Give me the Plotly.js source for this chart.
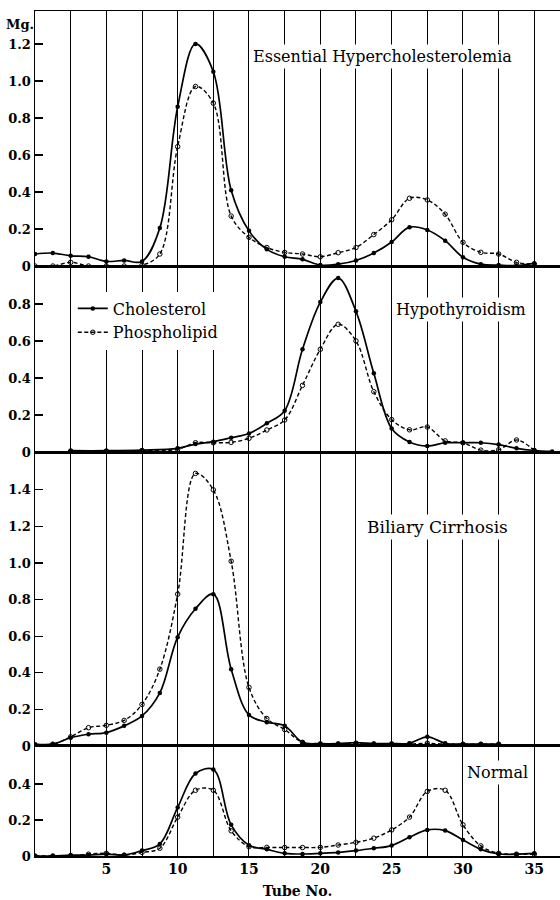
<!DOCTYPE html>
<html>
<head>
<meta charset="utf-8">
<script src="https://cdn.plot.ly/plotly-3.0.1.min.js"></script>
<style>html,body{margin:0;padding:0;background:#fff;}#chart{width:560px;height:900px;}</style>
</head>
<body>
<div id="chart"></div>
<script>
// ---- data (tube numbers and Mg values) ----
const tubes = [0,1.25,2.5,3.75,5,6.25,7.5,8.75,10,11.25,12.5,13.75,15,16.25,17.5,18.75,20,21.25,22.5,23.75,25,26.25,27.5,28.75,30,31.25,32.5,33.75,35];
const essentialChol = [0.065,0.07,0.055,0.05,0.025,0.03,0.025,0.205,0.86,1.2,1.05,0.41,0.19,0.09,0.05,0.036,0.005,0.01,0.03,0.07,0.13,0.21,0.195,0.137,0.047,0.01,0.005,0.003,0.015];
const essentialPhos = [0.0,0.0,0.02,0.0,0.0,0.0,0.005,0.065,0.645,0.97,0.88,0.27,0.155,0.10,0.074,0.065,0.05,0.072,0.10,0.17,0.25,0.366,0.357,0.28,0.128,0.074,0.065,0.02,0.01];

const hypoTubesChol = [2.5,5,7.5,10,11.25,12.5,13.75,15,16.25,17.5,18.75,20,21.25,22.5,23.75,25,26.25,27.5,28.75,30,31.25,32.5,33.75,35,36.25];
const hypoChol = [0.007,0.007,0.01,0.02,0.043,0.056,0.077,0.10,0.155,0.223,0.555,0.81,0.94,0.76,0.425,0.127,0.054,0.032,0.05,0.05,0.05,0.04,0.02,0.008,0.003];
const hypoTubesPhos = [2.5,5,7.5,10,11.25,12.5,13.75,15,16.25,17.5,18.75,20,21.25,22.5,23.75,25,26.25,27.5,28.75,30,31.25,32.5,33.75,35];
const hypoPhos = [0.005,0.005,0.008,0.015,0.05,0.05,0.052,0.074,0.119,0.173,0.36,0.555,0.69,0.60,0.326,0.175,0.12,0.135,0.06,0.05,0.01,0.012,0.065,0.008];

const biliaryTubes = [0,1.25,2.5,3.75,5,6.25,7.5,8.75,10,11.25,12.5,13.75,15,16.25,17.5,18.75,20,21.25,22.5,23.75,25,26.25,27.5,28.75,30,31.25,32.5];
const biliaryChol = [0.01,0.01,0.045,0.064,0.073,0.11,0.164,0.29,0.595,0.75,0.83,0.42,0.17,0.13,0.11,0.02,0.013,0.013,0.018,0.013,0.013,0.015,0.05,0.015,0.01,0.01,0.01];
const biliaryPhos = [0.005,0.01,0.05,0.10,0.113,0.14,0.227,0.42,0.83,1.49,1.40,1.01,0.32,0.15,0.09,0.02,0.01,0.01,0.012,0.01,0.01,0.01,0.015,0.01,0.01,0.01,0.01];

const normalChol = [0,0,0.005,0.005,0.01,0.005,0.03,0.067,0.27,0.458,0.48,0.173,0.06,0.037,0.015,0.011,0.015,0.02,0.03,0.043,0.058,0.104,0.145,0.141,0.089,0.037,0.011,0.01,0.015];
const normalPhos = [0,0,0,0.01,0.015,0.005,0.02,0.043,0.216,0.365,0.365,0.14,0.052,0.048,0.047,0.047,0.048,0.061,0.076,0.099,0.145,0.216,0.359,0.365,0.173,0.056,0.015,0.01,0.01];

const xTickVals = [2.5,5,7.5,10,12.5,15,17.5,20,22.5,25,27.5,30,32.5,35];
const xTickText = ['','5','','10','','15','','20','','25','','30','','35'];

const panelTitles = ['Essential Hypercholesterolemia','Hypothyroidism','Biliary Cirrhosis','Normal'];
const seriesNames = ['Cholesterol','Phospholipid'];

// ---- styling ----
const FONT = 'DejaVu Serif, Liberation Serif, serif';
const cholStyle = {
  mode:'lines+markers', line:{color:'#000', width:1.7, shape:'spline', smoothing:1},
  marker:{symbol:'circle', size:4.5, color:'#000'}
};
const phosStyle = {
  mode:'lines+markers', line:{color:'#000', width:1.4, dash:'4px,2.5px', shape:'spline', smoothing:1},
  marker:{symbol:'circle-open', size:4.5, color:'#000', line:{width:1, color:'#000'}}
};
function chol(x, y, ax, show){ return Object.assign({type:'scatter', x:x, y:y, xaxis:'x', yaxis:ax, name:seriesNames[0], legendgroup:'c', showlegend:show}, JSON.parse(JSON.stringify(cholStyle))); }
function phos(x, y, ax, show){ return Object.assign({type:'scatter', x:x, y:y, xaxis:'x', yaxis:ax, name:seriesNames[1], legendgroup:'p', showlegend:show}, JSON.parse(JSON.stringify(phosStyle))); }

const data = [
  chol(tubes, essentialChol, 'y', true),
  phos(tubes, essentialPhos, 'y', true),
  chol(hypoTubesChol, hypoChol, 'y2', false),
  phos(hypoTubesPhos, hypoPhos, 'y2', false),
  chol(biliaryTubes, biliaryChol, 'y3', false),
  phos(biliaryTubes, biliaryPhos, 'y3', false),
  chol(tubes, normalChol, 'y4', false),
  phos(tubes, normalPhos, 'y4', false)
];

const tickFont = {family:FONT, size:13, color:'#000', weight:'bold'};
function yax(domain, range, vals, text){
  return {domain:domain, range:range, anchor:'x', tickmode:'array', tickvals:vals, ticktext:text,
    ticks:'inside', ticklen:8, tickwidth:1.2, tickcolor:'#000', showgrid:false, zeroline:false,
    showline:true, linecolor:'#000', linewidth:1.5, tickfont:tickFont, fixedrange:true};
}
function title(text, x, y, size){
  return {text:text, xref:'paper', yref:'paper', x:x, y:y, xanchor:'center', yanchor:'middle',
    showarrow:false, bgcolor:'#fff', borderpad:2, font:{family:FONT, size:size, color:'#000'}};
}

const layout = {
  width:560, height:900,
  margin:{l:35, r:0, t:11, b:44},
  paper_bgcolor:'#fff', plot_bgcolor:'#fff',
  font:{family:FONT, color:'#000'},
  xaxis:{domain:[0,1], range:[0,36.8], anchor:'y4', tickmode:'array', tickvals:xTickVals, ticktext:xTickText,
    ticks:'', showgrid:true, gridcolor:'#000', gridwidth:1, zeroline:false,
    showline:true, linecolor:'#000', linewidth:1.5, mirror:'all', tickfont:{family:FONT, size:14, color:'#000', weight:'bold'},
    title:{text:'Tube No.', font:{family:FONT, size:14, color:'#000', weight:'bold'}, standoff:10}},
  yaxis: yax([0.6982,1], [0,1.378], [0,0.2,0.4,0.6,0.8,1.0,1.2], ['0','0.2','0.4','0.6','0.8','1.0','1.2']),
  yaxis2: yax([0.4781,0.6982], [0,1.005], [0,0.2,0.4,0.6,0.8], ['0','0.2','0.4','0.6','0.8']),
  yaxis3: yax([0.1302,0.4781], [0,1.607], [0,0.2,0.4,0.6,0.8,1.0,1.2,1.4], ['0','0.2','0.4','0.6','0.8','1.0','1.2','1.4']),
  yaxis4: yax([0,0.1302], [0,0.611], [0,0.2,0.4], ['0','0.2','0.4']),
  showlegend:true,
  legend:{x:0.072, y:0.668, xanchor:'left', yanchor:'top', bgcolor:'#fff', borderwidth:0,
    font:{family:FONT, size:16, color:'#000'}, tracegroupgap:0, itemwidth:30},
  annotations:[
    title(panelTitles[0], 0.662, 0.9456, 16),
    title(panelTitles[1], 0.811, 0.647, 16),
    title(panelTitles[2], 0.766, 0.389, 17),
    title(panelTitles[3], 0.880, 0.0994, 16),
    {text:'Mg.', xref:'paper', yref:'paper', x:-0.0286, y:0.9846, xanchor:'center', yanchor:'middle', showarrow:false,
     font:{family:FONT, size:13, color:'#000', weight:'bold'}}
  ]
};

Plotly.newPlot('chart', data, layout, {staticPlot:true, displayModeBar:false});
</script>
</body>
</html>
